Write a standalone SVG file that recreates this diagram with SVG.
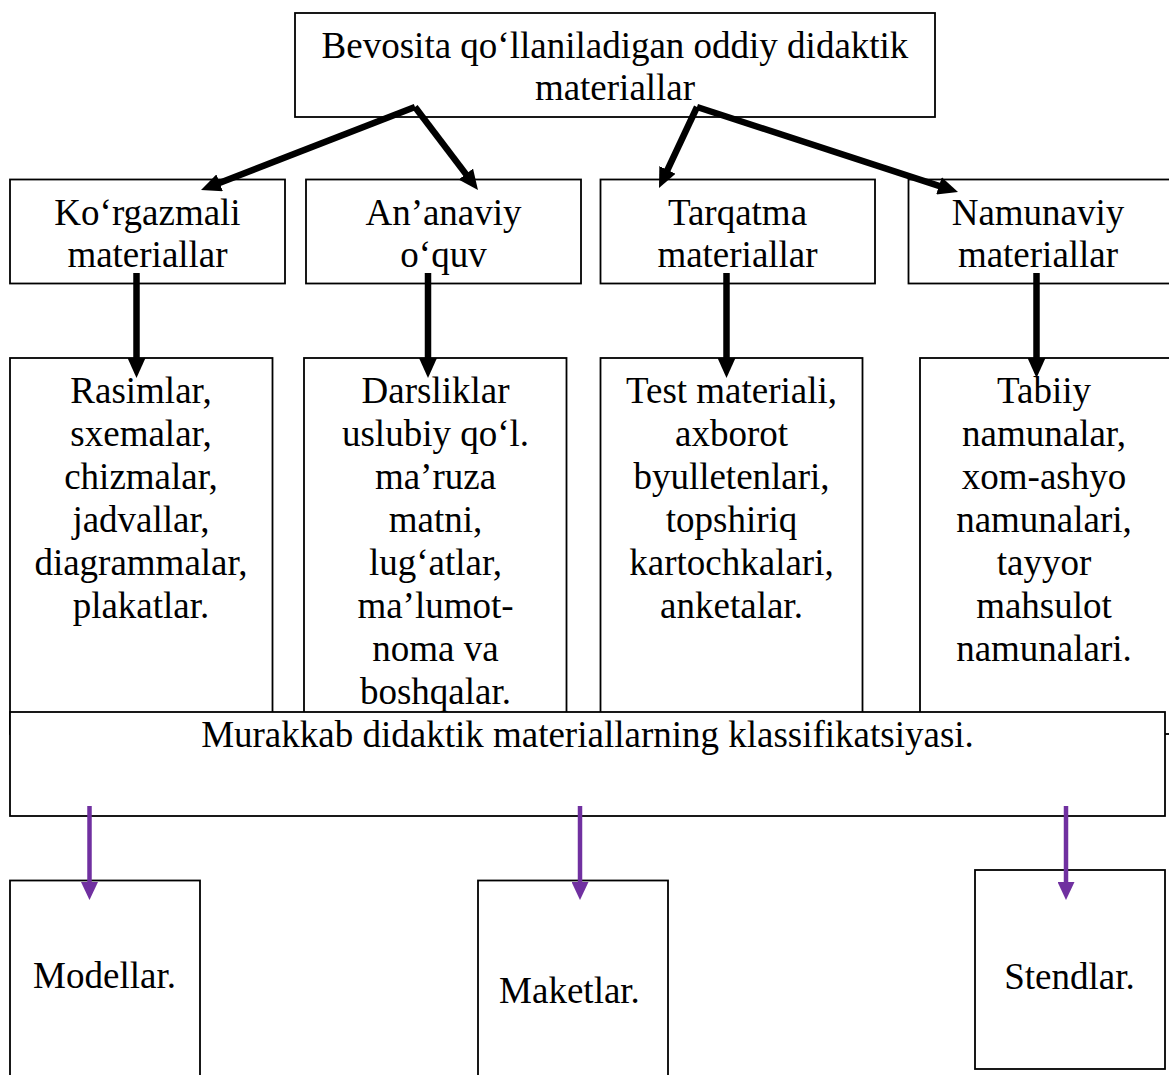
<svg xmlns="http://www.w3.org/2000/svg" width="1169" height="1075" viewBox="0 0 1169 1075">
<style>
.box{fill:#fff;stroke:#000;stroke-width:1.8}
.t{font-family:"Liberation Serif","Times New Roman",serif;font-size:37px;fill:#000;text-anchor:middle}
.blk{stroke:#000;stroke-width:6.5;fill:none}
.pur{stroke:#7030A0;stroke-width:4.5;fill:none}
</style>
<defs>
<marker id="ab" viewBox="0 0 20 18" refX="8" refY="9" markerWidth="20" markerHeight="18" markerUnits="userSpaceOnUse" orient="auto">
<path d="M0,0 L20,9 L0,18 z" fill="#000"/>
</marker>
<marker id="ap" viewBox="0 0 18 17" refX="8" refY="8.5" markerWidth="18" markerHeight="17" markerUnits="userSpaceOnUse" orient="auto">
<path d="M0,0 L18,8.5 L0,17 z" fill="#7030A0"/>
</marker>
</defs>

<g id="top">
<rect class="box" x="295" y="13" width="640" height="104"/>
<text class="t" x="615" y="58">Bevosita qo‘llaniladigan oddiy didaktik</text>
<text class="t" x="615" y="100">materiallar</text>
</g>

<g id="korgazmali">
<rect class="box" x="10" y="179.5" width="275" height="104"/>
<text class="t" x="147.5" y="225">Ko‘rgazmali</text>
<text class="t" x="147.5" y="267">materiallar</text>
</g>
<g id="ananaviy">
<rect class="box" x="306" y="179.5" width="275" height="104"/>
<text class="t" x="443.5" y="225">An’anaviy</text>
<text class="t" x="443.5" y="267">o‘quv</text>
</g>
<g id="tarqatma">
<rect class="box" x="600.5" y="179.5" width="274.5" height="104"/>
<text class="t" x="737.5" y="225">Tarqatma</text>
<text class="t" x="737.5" y="267">materiallar</text>
</g>
<g id="namunaviy">
<rect class="box" x="908.5" y="179.5" width="280" height="104"/>
<text class="t" x="1038" y="225">Namunaviy</text>
<text class="t" x="1038" y="267">materiallar</text>
</g>

<g id="rasimlar">
<rect class="box" x="10" y="358" width="262.5" height="376"/>
<text class="t" x="141" y="402.5">Rasimlar,</text>
<text class="t" x="141" y="445.5">sxemalar,</text>
<text class="t" x="141" y="488.5">chizmalar,</text>
<text class="t" x="141" y="531.5">jadvallar,</text>
<text class="t" x="141" y="574.5">diagrammalar,</text>
<text class="t" x="141" y="617.5">plakatlar.</text>
</g>
<g id="darsliklar">
<rect class="box" x="304" y="358" width="262.5" height="376"/>
<text class="t" x="435.5" y="402.5">Darsliklar</text>
<text class="t" x="435.5" y="445.5">uslubiy qo‘l.</text>
<text class="t" x="435.5" y="488.5">ma’ruza</text>
<text class="t" x="435.5" y="531.5">matni,</text>
<text class="t" x="435.5" y="574.5">lug‘atlar,</text>
<text class="t" x="435.5" y="617.5">ma’lumot-</text>
<text class="t" x="435.5" y="660.5">noma va</text>
<text class="t" x="435.5" y="703.5">boshqalar.</text>
</g>
<g id="test">
<rect class="box" x="600.5" y="358" width="262" height="376"/>
<text class="t" x="731.5" y="402.5">Test materiali,</text>
<text class="t" x="731.5" y="445.5">axborot</text>
<text class="t" x="731.5" y="488.5">byulletenlari,</text>
<text class="t" x="731.5" y="531.5">topshiriq</text>
<text class="t" x="731.5" y="574.5">kartochkalari,</text>
<text class="t" x="731.5" y="617.5">anketalar.</text>
</g>
<g id="tabiiy">
<rect class="box" x="920" y="358" width="270" height="376"/>
<text class="t" x="1044" y="402.5">Tabiiy</text>
<text class="t" x="1044" y="445.5">namunalar,</text>
<text class="t" x="1044" y="488.5">xom-ashyo</text>
<text class="t" x="1044" y="531.5">namunalari,</text>
<text class="t" x="1044" y="574.5">tayyor</text>
<text class="t" x="1044" y="617.5">mahsulot</text>
<text class="t" x="1044" y="660.5">namunalari.</text>
</g>

<g id="murakkab">
<rect class="box" x="10" y="712" width="1155" height="104"/>
<text class="t" x="587.5" y="747">Murakkab didaktik materiallarning klassifikatsiyasi.</text>
</g>

<g id="modellar">
<rect class="box" x="10" y="880.5" width="190" height="210"/>
<text class="t" x="104.5" y="988">Modellar.</text>
</g>
<g id="maketlar">
<rect class="box" x="478" y="880.5" width="190" height="210"/>
<text class="t" x="569.5" y="1003">Maketlar.</text>
</g>
<g id="stendlar">
<rect class="box" x="975" y="870" width="190" height="199"/>
<text class="t" x="1069.5" y="989">Stendlar.</text>
</g>

<g id="connectors">
<line class="blk" x1="415" y1="107" x2="212.2" y2="185.7" marker-end="url(#ab)"/>
<line class="blk" x1="415" y1="107" x2="470.7" y2="180.4" marker-end="url(#ab)"/>
<line class="blk" x1="697" y1="107" x2="664.1" y2="177.1" marker-end="url(#ab)"/>
<line class="blk" x1="697" y1="107" x2="946.6" y2="188.3" marker-end="url(#ab)"/>
<line class="blk" x1="136.5" y1="273" x2="136.5" y2="366" marker-end="url(#ab)"/>
<line class="blk" x1="428" y1="273" x2="428" y2="366" marker-end="url(#ab)"/>
<line class="blk" x1="726.5" y1="273" x2="726.5" y2="366" marker-end="url(#ab)"/>
<line class="blk" x1="1036.5" y1="273" x2="1036.5" y2="366" marker-end="url(#ab)"/>
<line class="pur" x1="89.5" y1="806" x2="89.5" y2="890" marker-end="url(#ap)"/>
<line class="pur" x1="580" y1="806" x2="580" y2="890" marker-end="url(#ap)"/>
<line class="pur" x1="1066" y1="806" x2="1066" y2="890" marker-end="url(#ap)"/>
</g>
</svg>
